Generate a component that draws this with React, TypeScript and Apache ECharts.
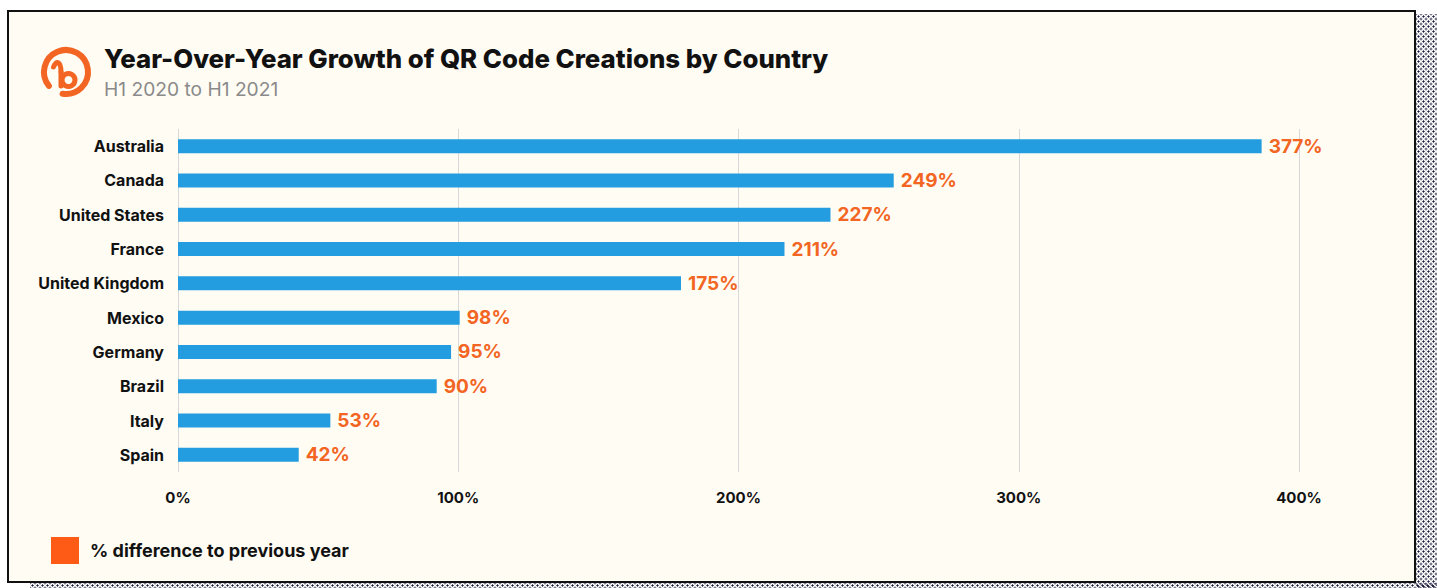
import React, { useEffect, useRef } from "react";
import * as echarts from "echarts";

const categories = [
  "Australia",
  "Canada",
  "United States",
  "France",
  "United Kingdom",
  "Mexico",
  "Germany",
  "Brazil",
  "Italy",
  "Spain",
];
const growthValues = [377, 249, 227, 211, 175, 98, 95, 90, 53, 42];
const axisTicks = [0, 100, 200, 300, 400];
const titleText = "Year-Over-Year Growth of QR Code Creations by Country";
const subtitleText = "H1 2020 to H1 2021";
const legendText = "% difference to previous year";

const FONT = "Inter, Lato, 'Noto Sans', sans-serif";
const ORANGE = "#f26522";
const BLUE = "#239ddf";

export default function App() {
  const ref = useRef<HTMLDivElement>(null);

  useEffect(() => {
    if (!ref.current) return;
    const chart = echarts.init(ref.current, undefined, { renderer: "svg" });
    const deg = Math.PI / 180;
    chart.setOption({
      animation: false,
      backgroundColor: "transparent",
      textStyle: { fontFamily: FONT },
      title: {
        text: titleText,
        subtext: subtitleText,
        left: 104,
        top: 45,
        padding: 0,
        itemGap: 8,
        textStyle: {
          fontFamily: FONT,
          fontSize: 25.8,
          fontWeight: 800,
          color: "#111111",
        },
        subtextStyle: {
          fontFamily: FONT,
          fontSize: 19.2,
          color: "#8a8a8a",
        },
      },
      legend: {
        data: [{ name: legendText, itemStyle: { color: "#fd5b16" } }],
        icon: "rect",
        left: 51,
        top: 537,
        padding: 0,
        itemWidth: 28,
        itemHeight: 27,
        itemGap: 11,
        selectedMode: false,
        textStyle: {
          fontFamily: FONT,
          fontSize: 18,
          fontWeight: "bold",
          color: "#111111",
          padding: [0, 0, 0, 6],
        },
      },
      grid: { left: 178, right: 138, top: 129, height: 343 },
      xAxis: [
        {
          type: "value",
          min: axisTicks[0],
          max: axisTicks[axisTicks.length - 1],
          interval: axisTicks[1] - axisTicks[0],
          position: "bottom",
          axisLine: { show: false },
          axisTick: { show: false },
          splitLine: { show: true, lineStyle: { color: "#d8d8d8", width: 1 } },
          axisLabel: {
            formatter: "{value}%",
            margin: 18,
            fontFamily: FONT,
            fontSize: 15,
            fontWeight: "bold",
            color: "#111111",
          },
        },
        {
          type: "value",
          min: 0,
          max: 390,
          show: false,
          splitLine: { show: false },
        },
      ],
      yAxis: {
        type: "category",
        data: categories,
        inverse: true,
        axisLine: { show: false },
        axisTick: { show: false },
        splitLine: { show: false },
        axisLabel: {
          margin: 14,
          fontFamily: FONT,
          fontSize: 16,
          fontWeight: "bold",
          color: "#111111",
        },
      },
      series: [
        {
          name: legendText,
          type: "bar",
          xAxisIndex: 1,
          data: growthValues,
          barWidth: 14,
          itemStyle: { color: BLUE },
          label: {
            show: true,
            position: "right",
            distance: 7,
            formatter: "{c}%",
            fontFamily: FONT,
            fontSize: 19,
            fontWeight: "bold",
            color: ORANGE,
          },
        },
      ],
      graphic: [
        {
          type: "arc",
          shape: {
            cx: 66,
            cy: 72,
            r: 22,
            startAngle: 141 * deg,
            endAngle: (99 + 360) * deg,
            clockwise: true,
          },
          style: { stroke: ORANGE, lineWidth: 6, fill: null, lineCap: "round" },
        },
        {
          type: "bezierCurve",
          shape: {
            x1: 53.5,
            y1: 67,
            cpx1: 56,
            cpy1: 60,
            cpx2: 61,
            cpy2: 61,
            x2: 61,
            y2: 72,
          },
          style: { stroke: ORANGE, lineWidth: 5, fill: null, lineCap: "round" },
        },
        {
          type: "line",
          shape: { x1: 61, y1: 72, x2: 61, y2: 86 },
          style: { stroke: ORANGE, lineWidth: 5, lineCap: "round" },
        },
        {
          type: "circle",
          shape: { cx: 68.5, cy: 80, r: 6.5 },
          style: { stroke: ORANGE, lineWidth: 5, fill: null },
        },
      ],
    });
    return () => chart.dispose();
  }, []);

  const dots = {
    backgroundImage:
      "radial-gradient(circle, #1c1b3c 0.9px, transparent 1.2px), radial-gradient(circle, #1c1b3c 0.9px, transparent 1.2px)",
    backgroundSize: "5px 5px, 5px 5px",
    backgroundPosition: "0 0, 2.5px 2.5px",
  } as React.CSSProperties;

  return (
    <div
      style={{
        position: "fixed",
        left: 0,
        top: 0,
        width: 1437,
        height: 588,
        background: "#ffffff",
        overflow: "hidden",
      }}
    >
      <div style={{ position: "absolute", left: 1416, top: 14, width: 21, height: 574, ...dots }} />
      <div style={{ position: "absolute", left: 30, top: 583, width: 1407, height: 5, ...dots }} />
      <div
        style={{
          position: "absolute",
          left: 7,
          top: 10,
          width: 1405,
          height: 569,
          background: "#fffcf4",
          border: "2px solid #111111",
        }}
      />
      <div ref={ref} style={{ position: "absolute", left: 0, top: 0, width: 1437, height: 588 }} />
    </div>
  );
}
